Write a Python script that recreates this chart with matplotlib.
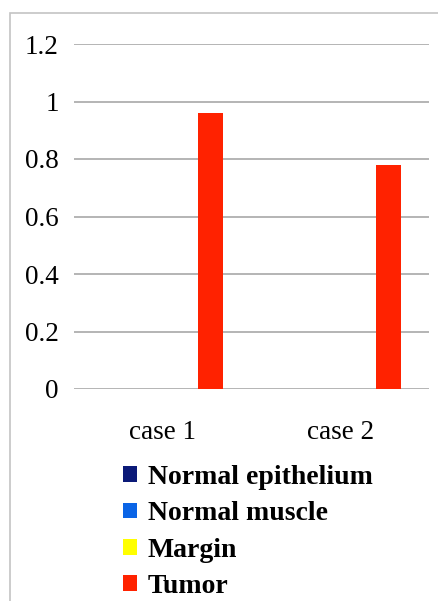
import matplotlib
matplotlib.use("Agg")
import matplotlib.pyplot as plt
import numpy as np
from matplotlib.patches import Rectangle

# 数据
cases = ["case 1", "case 2"]
series_names = ["Normal epithelium", "Normal muscle", "Margin", "Tumor"]
series_colors = ["#0b1a78", "#0a64e6", "#ffff00", "#ff2200"]
normal_epithelium = [0, 0]
normal_muscle = [0, 0]
margin = [0, 0]
tumor = [0.96, 0.78]
y_ticks = [0, 0.2, 0.4, 0.6, 0.8, 1, 1.2]
y_tick_labels = ["0", "0.2", "0.4", "0.6", "0.8", "1", "1.2"]

W, H = 439, 601
fig = plt.figure(figsize=(W / 100, H / 100), dpi=100)
fig.patch.set_facecolor("white")

# 外框（右侧和底部超出画面）
fig.add_artist(Rectangle((10 / W, -0.1), 1.2, 1.1 - 13 / H,
                         transform=fig.transFigure, fill=False,
                         edgecolor="#c4c4c4", linewidth=1.2))

ax = fig.add_axes([74 / W, 1 - 389 / H, (429 - 74) / W, (389 - 44) / H])
x = np.arange(len(cases))
slot = 0.18
bw = 0.14
values = [normal_epithelium, normal_muscle, margin, tumor]
bars = []
for i, (vals, name, col) in enumerate(zip(values, series_names, series_colors)):
    b = ax.bar(x + (i - 1.5) * slot, vals, width=bw, color=col, label=name, zorder=3)
    bars.append(b)

ax.set_xlim(-0.5, 1.5)
ax.set_ylim(0, 1.2)
ax.set_yticks(y_ticks)
ax.set_yticklabels(y_tick_labels)
ax.set_xticks(x)
ax.set_xticklabels(cases)
ax.yaxis.grid(True, color="#a8a8a8", linewidth=1.2, zorder=0)
ax.set_axisbelow(True)
for s in ax.spines.values():
    s.set_visible(False)
ax.tick_params(axis="both", length=0, labelsize=19.5)
ax.tick_params(axis="y", pad=11)
ax.tick_params(axis="x", pad=22)
for lab in ax.get_xticklabels() + ax.get_yticklabels():
    lab.set_fontfamily("Liberation Serif")

leg = fig.legend(handles=bars, labels=series_names, loc="upper left",
                 bbox_to_anchor=(123 / W, 1 - 465 / H),
                 frameon=False, borderpad=0, borderaxespad=0,
                 handlelength=0.5, handleheight=0.5,
                 handletextpad=0.4, labelspacing=0.41,
                 prop={"family": "Liberation Serif", "weight": "bold", "size": 20})

fig.savefig("out.png", dpi=100)
